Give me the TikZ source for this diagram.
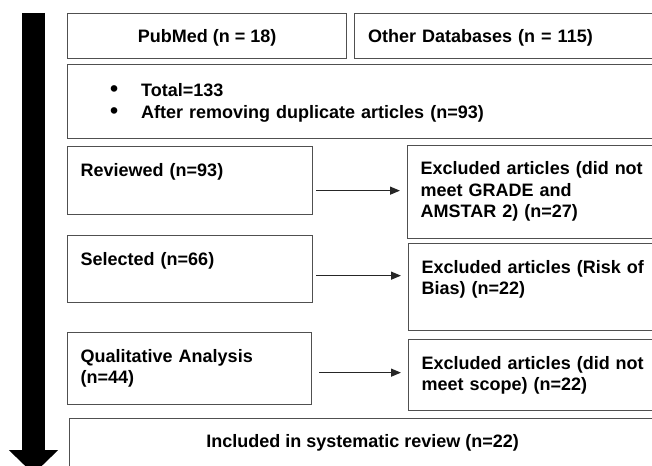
\documentclass[tikz,border=0pt]{standalone}
\usepackage{fontspec}
\setmainfont{Liberation Sans}
\usetikzlibrary{arrows.meta,calc}
\definecolor{boxgray}{RGB}{80,80,80}
\tikzset{
    stagebox/.style={draw=boxgray, line width=1.3pt, anchor=north west, inner sep=0pt},
    boxtext/.style={anchor=base west, inner sep=0pt, text width=#1, align=left, font=\bfseries\fontsize{18}{21.5}\selectfont},
    boxtext/.default=240pt,
    titletext/.style={anchor=base, inner sep=0pt, font=\bfseries\fontsize{18}{21.5}\selectfont},
    link/.style={draw=black!85, line width=1.3pt, -{Triangle[length=10pt,width=8pt]}, shorten >=7pt},
    flow/.style={line width=23pt, -{Triangle[length=24pt,width=48pt]}},
}
\newcommand{\listdot}{\makebox[31pt][l]{\fontsize{23}{21.5}\selectfont\textbullet}}

\begin{document}
\begin{tikzpicture}[x=1pt, y=-1pt]
    \clip (0,0) rectangle (652,465);

    % Big arrow on the left
    \coordinate (flowtop) at (33.5,13);
    \coordinate (flowend) at (33.5,474);
    \draw[flow] (flowtop) -- (flowend);

    % Sources
    \node[stagebox, minimum width=279, minimum height=45] (pub) at (67,13) {};
    \node[stagebox, minimum width=302, minimum height=45] (oth) at (354,13) {};
    \node[titletext] (pubtext) at ([shift={(0,30)}]pub.north) {PubMed (n = 18)};
    \node[boxtext] (othtext) at ([shift={(14,30)}]oth.north west) {Other Databases (n = 115)};

    % Total
    \node[stagebox, minimum width=589, minimum height=74] (tot) at (67,64) {};
    \node[boxtext=500pt] (tottext) at ([shift={(43,33)}]tot.north west)
        {\listdot Total=133\\\listdot After removing duplicate articles (n=93)};

    % Stages and exclusions
    \node[stagebox, minimum width=245, minimum height=68] (rev) at (67,146) {};
    \node[stagebox, minimum width=249, minimum height=93] (ex1) at (407,145) {};
    \node[stagebox, minimum width=245, minimum height=67] (sel) at (67,235) {};
    \node[stagebox, minimum width=248, minimum height=87] (ex2) at (408,243) {};
    \node[stagebox, minimum width=244, minimum height=72] (qua) at (67,332) {};
    \node[stagebox, minimum width=248, minimum height=71] (ex3) at (408,339) {};
    \foreach \b/\t in {rev/{Reviewed (n=93)}, sel/{Selected (n=66)}, qua/{Qualitative Analysis\\(n=44)},
        ex1/{Excluded articles (did not\\meet GRADE and\\AMSTAR 2) (n=27)},
        ex2/{Excluded articles (Risk of\\Bias) (n=22)},
        ex3/{Excluded articles (did not\\meet scope) (n=22)}}
        \node[boxtext] (\b-text) at ([shift={(13.5,30)}]\b.north west) {\t};

    % Arrows to exclusions
    \foreach \a/\b/\gap/\dy in {rev/ex1/3/10, sel/ex2/3/6.5, qua/ex3/7/4}
        \draw[link] ([shift={(\gap,\dy)}]\a.east) coordinate (\a-out) -- (\a-out -| \b.west);

    % Included
    \node[stagebox, minimum width=586, minimum height=60] (inc) at (69,418) {};
    \node[titletext] (inctext) at ([shift={(0,29)}]inc.north) {Included in systematic review (n=22)};
\end{tikzpicture}
\end{document}
